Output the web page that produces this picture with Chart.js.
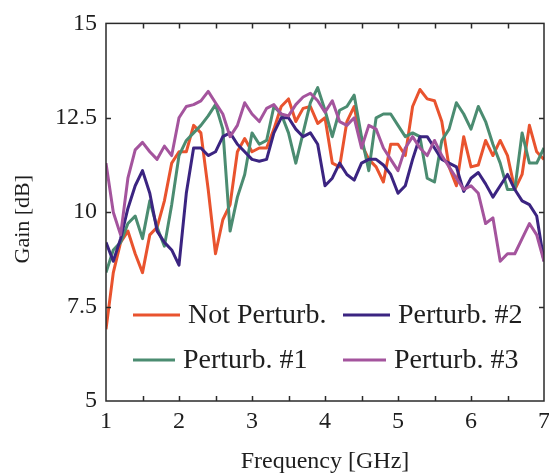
<!DOCTYPE html>
<html>
<head>
<meta charset="utf-8">
<title>Gain vs Frequency</title>
<script src="https://cdn.jsdelivr.net/npm/chart.js@4"></script>
<style>
  html, body { margin: 0; padding: 0; background: #fff; }
  canvas { display: block; }
</style>
</head>
<body>
<canvas id="gainChart" width="549" height="474"></canvas>
<script>
// frequency samples [GHz]
const freq = [
  1.0, 1.1, 1.2, 1.3, 1.4, 1.5, 1.6, 1.7, 1.8, 1.9,
  2.0, 2.1, 2.2, 2.3, 2.4, 2.5, 2.6, 2.7, 2.8, 2.9,
  3.0, 3.1, 3.2, 3.3, 3.4, 3.5, 3.6, 3.7, 3.8, 3.9,
  4.0, 4.1, 4.2, 4.3, 4.4, 4.5, 4.6, 4.7, 4.8, 4.9,
  5.0, 5.1, 5.2, 5.3, 5.4, 5.5, 5.6, 5.7, 5.8, 5.9,
  6.0, 6.1, 6.2, 6.3, 6.4, 6.5, 6.6, 6.7, 6.8, 6.9,
  7.0
];

// gain [dB] per antenna state
const gainNotPerturb = [
  6.9, 8.4, 9.2, 9.5, 8.9, 8.4, 9.4, 9.6, 10.3, 11.3,
  11.6, 11.6, 12.3, 12.1, 10.6, 8.9, 9.8, 10.2, 11.6, 11.95,
  11.6, 11.7, 11.7, 12.2, 12.8, 13.0, 12.4, 12.75, 12.8, 12.35,
  12.5, 11.3, 11.2, 12.4, 12.8, 11.8, 11.4, 11.2, 10.8, 11.8,
  11.8, 11.5, 12.8, 13.25, 13.0, 12.95, 12.4, 11.2, 10.7, 12.0,
  11.2, 11.25, 11.9, 11.5, 11.9, 11.5, 10.6, 11.0, 12.3, 11.6,
  11.4
];
const gainPerturb1 = [
  8.4, 9.0, 9.2, 9.7, 9.9, 9.3, 10.3, 9.6, 9.1, 10.2,
  11.5, 11.9, 12.1, 12.3, 12.55, 12.85, 12.2, 9.5, 10.4, 11.0,
  12.1, 11.8, 11.9, 12.8, 12.6, 12.1, 11.3, 12.1, 12.9, 13.3,
  12.7, 12.0, 12.7, 12.8, 13.1, 12.0, 11.1, 12.5, 12.6, 12.6,
  12.3, 12.0, 12.1, 12.0, 10.9, 10.8, 11.9, 12.2, 12.9, 12.6,
  12.2, 12.8, 12.4, 11.8, 11.3, 10.6, 10.6, 12.1, 11.3, 11.3,
  11.7
];
const gainPerturb2 = [
  9.2, 8.7, 9.3, 10.1, 10.7, 11.1, 10.5, 9.5, 9.2, 9.0,
  8.6, 10.5, 11.7, 11.7, 11.5, 11.6, 12.0, 12.1, 11.8, 11.6,
  11.4, 11.35, 11.4, 12.1, 12.5, 12.5, 12.2, 12.0, 12.1, 11.8,
  10.7, 10.9, 11.3, 11.0, 10.85, 11.3, 11.4, 11.4, 11.25, 11.0,
  10.5, 10.7, 11.4, 12.0, 12.0, 11.7, 11.4, 11.3, 11.2, 10.55,
  10.9, 11.05, 10.75, 10.4, 10.7, 11.0, 10.6, 10.3, 10.2, 9.9,
  8.7
];
const gainPerturb3 = [
  11.3, 10.0, 9.4, 10.9, 11.65, 11.85, 11.6, 11.4, 11.75, 11.5,
  12.5, 12.8, 12.85, 12.95, 13.2, 12.9, 12.6, 12.0, 12.3, 12.9,
  12.6, 12.4, 12.75, 12.85, 12.6, 12.55, 12.85, 13.05, 13.15, 12.95,
  12.65, 12.95, 12.4, 12.3, 12.5, 11.7, 12.3, 12.2, 11.7, 11.4,
  11.1, 11.7, 12.0, 11.7, 11.5, 11.9, 11.5, 11.2, 10.9, 10.6,
  10.7, 10.5, 9.7, 9.85, 8.7, 8.9, 8.9, 9.3, 9.7, 9.4,
  8.7
];

const seriesLabels = ['Not Perturb.', 'Perturb. #1', 'Perturb. #2', 'Perturb. #3'];
const seriesColors = ['#e9532e', '#4b8c71', '#3b2481', '#a4549d'];

// tick labels and the half-step tick marks on the box
const xTickLabels = [1, 2, 3, 4, 5, 6, 7];
const xTickMarks = [1.5, 2, 2.5, 3, 3.5, 4, 4.5, 5, 5.5, 6, 6.5];
const yTickLabels = [5, 7.5, 10, 12.5, 15];
const yTickMarks = [7.5, 10, 12.5];

const FONT = "'Liberation Serif', 'Times New Roman', serif";
const TEXT_COLOR = '#1e1e1e';

function toPoints(values) {
    return values.map((v, i) => ({ x: freq[i], y: v }));
}

// box around the plot with inward ticks on every side, plus the y title
const boxFrame = {
    id: 'boxFrame',
    afterDatasetsDraw(chart) {
        const { ctx, chartArea: a, scales: { x, y } } = chart;
        const len = 5;
        ctx.save();
        ctx.strokeStyle = '#2a2a2a';
        ctx.lineWidth = 1.5;
        ctx.beginPath();
        xTickMarks.forEach(v => {
            const px = Math.round(x.getPixelForValue(v)) + 0.5;
            ctx.moveTo(px, a.bottom); ctx.lineTo(px, a.bottom - len);
            ctx.moveTo(px, a.top); ctx.lineTo(px, a.top + len);
        });
        yTickMarks.forEach(v => {
            const py = Math.round(y.getPixelForValue(v)) + 0.5;
            ctx.moveTo(a.left, py); ctx.lineTo(a.left + len, py);
            ctx.moveTo(a.right, py); ctx.lineTo(a.right - len, py);
        });
        ctx.stroke();
        ctx.strokeRect(a.left, a.top, a.right - a.left, a.bottom - a.top);

        // rotated axis title, sitting a little below the plot centre
        ctx.translate(23, (a.top + a.bottom) / 2 + 7);
        ctx.rotate(-Math.PI / 2);
        ctx.font = '22px ' + FONT;
        ctx.fillStyle = TEXT_COLOR;
        ctx.textAlign = 'center';
        ctx.textBaseline = 'middle';
        ctx.fillText('Gain [dB]', 0, 0);
        ctx.restore();
    }
};

// two-column legend inside the lower part of the plot
const boxLegend = {
    id: 'boxLegend',
    afterDatasetsDraw(chart) {
        const { ctx, chartArea: a } = chart;
        // column-major order
        const slots = [
            { col: 0, row: 0 }, { col: 0, row: 1 },
            { col: 1, row: 0 }, { col: 1, row: 1 }
        ];
        const colX = [a.left + 27, a.left + 237];
        const rowY = [a.bottom - 86, a.bottom - 41];
        const lineLen = [[47, 42], [47, 43]];
        ctx.save();
        ctx.font = '28px ' + FONT;
        ctx.textBaseline = 'middle';
        ctx.fillStyle = TEXT_COLOR;
        chart.data.datasets.forEach((ds, i) => {
            const s = slots[i];
            const x0 = colX[s.col];
            const yy = rowY[s.row];
            const ll = lineLen[s.col][s.row];
            ctx.strokeStyle = ds.borderColor;
            ctx.lineWidth = 3;
            ctx.beginPath();
            ctx.moveTo(x0, yy);
            ctx.lineTo(x0 + ll, yy);
            ctx.stroke();
            ctx.fillText(ds.label, x0 + ll + 8, yy + 1);
        });
        ctx.restore();
    }
};

const datasets = [gainNotPerturb, gainPerturb1, gainPerturb2, gainPerturb3].map((vals, i) => ({
    label: seriesLabels[i],
    data: toPoints(vals),
    borderColor: seriesColors[i],
    backgroundColor: seriesColors[i],
    borderWidth: 3,
    borderJoinStyle: 'round',
    pointRadius: 0,
    tension: 0,
    fill: false,
    order: 3 - i
}));

new Chart(document.getElementById('gainChart').getContext('2d'), {
    type: 'line',
    data: { datasets },
    options: {
        responsive: false,
        animation: false,
        events: [],
        layout: { padding: { top: 21, right: 5, bottom: 0, left: 0 } },
        plugins: {
            legend: { display: false },
            tooltip: { enabled: false }
        },
        scales: {
            x: {
                type: 'linear',
                min: 1,
                max: 7,
                grid: { display: false, drawTicks: false },
                border: { display: false },
                afterBuildTicks: s => { s.ticks = xTickLabels.map(v => ({ value: v })); },
                afterFit: s => { s.height = 73; s.paddingLeft = 0; s.paddingRight = 0; },
                ticks: {
                    font: { family: FONT, size: 24 },
                    color: TEXT_COLOR,
                    padding: 6,
                    maxRotation: 0,
                    autoSkip: false
                },
                title: {
                    display: true,
                    text: 'Frequency [GHz]',
                    font: { family: FONT, size: 24, lineHeight: 1 },
                    color: TEXT_COLOR,
                    padding: { top: 0, bottom: 0 }
                }
            },
            y: {
                min: 5,
                max: 15,
                grid: { display: false, drawTicks: false },
                border: { display: false },
                afterBuildTicks: s => { s.ticks = yTickLabels.map(v => ({ value: v })); },
                afterFit: s => { s.width = 106; },
                ticks: {
                    font: { family: FONT, size: 24 },
                    color: TEXT_COLOR,
                    padding: 9
                }
            }
        }
    },
    plugins: [boxFrame, boxLegend]
});
</script>
</body>
</html>
